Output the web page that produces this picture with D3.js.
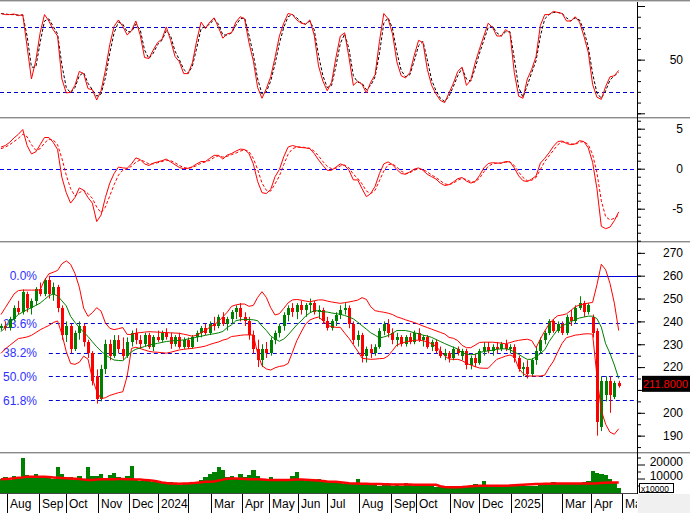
<!DOCTYPE html>
<html><head><meta charset="utf-8">
<script src="https://cdn.jsdelivr.net/npm/d3@7"></script>
<style>body{margin:0;background:#fff}svg{display:block;font-family:"Liberation Sans",Arial,sans-serif}</style>
</head><body><svg id="c" width="690" height="513"></svg>
<script>
// ---------- DATA (one sample per 3 trading days) ----------
const STEP = 3;
const monthStarts = [4,26,45,67,88,108,129,145,166,185,205,225,247,269,286,310,330,352,373,387,407,428];
const monthNames  = ["Aug","Sep","Oct","Nov","Dec","2024","","Mar","Apr","May","Jun","Jul","Aug","Sep","Oct","Nov","Dec","2025","","Mar","Apr","May"];

const stochK = [93,92,92,92.5,91,92,62,32,49,75,92,86,78,72,32,19,19.5,26,39,37,23,22,12.4,21,40,64,81,87,81,73,77,86,73,52,51,59,66,69,80.5,68,53,48,37,37,47,68,85,79,85,89,80,70,74,75,85,90,88,66,49,24,14,23,34,52,72,84,93,92,87,84,83,87,73,44,30,21,29,52,72,75,52,26,30,27,19,29,36,67,93,88,74,48,35,33,38,54,68,66,41,26,18,12,10,19,28,39,43,26,31,47,60,72,84,80,72,72,78,75,38,16,14,32,41,53,82,92,92,95,94,93,86,86,90,85,72,57,27,15,13,25,34,35,40];
const stochD = [93,92.5,92,92,91.5,91.5,72,43,43,66,86,88,81,74,45,24,19,24,35,38,28,22,16,18,33,56,75,85,83,76,76,83,78,59,51,56,64,68,77,72,58,50,41,37,44,61,79,81,83,88,83,73,73,75,82,88,89,73,55,32,18,20,30,46,65,80,90,92,89,85,83,86,78,54,35,24,26,44,65,74,60,35,29,28,22,26,34,56,84,89,79,57,40,34,36,49,63,67,50,31,21,14,11,16,25,35,42,32,30,42,56,68,80,81,75,72,76,76,51,24,15,26,38,49,72,88,92,94,94,93,89,86,89,87,77,62,37,19,14,21,31,35,38];

const macd = [2.7,2.9,3.3,3.85,4.3,4.9,2.9,1.85,2.1,3.0,3.9,3.9,3.3,2.4,-1.1,-3.0,-4.3,-3.6,-2.4,-2.7,-3.6,-4.3,-6.6,-5.8,-3.6,-1.8,-0.6,0.2,0.1,0.05,0.6,1.35,1.15,0.6,0.4,0.7,0.85,1.0,1.2,0.85,0.5,0.15,0,0.05,0.25,0.6,0.9,0.9,1.3,1.67,1.67,1.2,1.7,1.9,2.2,2.45,2.4,1.9,0.6,-1.6,-3.0,-3.1,-2.6,-1.0,-0.1,1.5,2.7,2.9,2.75,2.65,2.6,2.5,1.9,1.1,0.4,-0.2,-0.2,0.2,0.6,0.4,-0.2,-1.4,-1.4,-2.5,-3.5,-3.1,-2.2,-0.6,0.6,0.85,0.5,-0.1,-0.6,-0.7,-0.4,-0.05,0.1,-0.2,-0.7,-1.0,-1.3,-1.8,-2.1,-2.0,-1.65,-1.25,-1.1,-1.55,-1.8,-1.6,-0.85,0.1,0.65,0.75,0.7,0.7,0.9,0.85,0.1,-0.9,-1.5,-1.6,-1.3,-0.9,0.7,1.3,2.0,2.8,3.4,3.45,3.15,3.0,3.1,3.5,3.4,2.6,0.8,-2.5,-7.2,-7.5,-7.3,-6.5,-5.4];
const macdSignal = [2.5,2.7,3.0,3.4,3.8,4.3,4.0,3.0,2.3,2.5,3.2,3.7,3.6,3.0,1.3,-0.8,-2.5,-3.4,-3.0,-2.7,-3.1,-3.7,-4.8,-5.5,-4.8,-3.4,-2.0,-0.8,-0.2,0,0.3,0.8,1.1,0.9,0.6,0.6,0.75,0.9,1.05,1.0,0.75,0.4,0.15,0.05,0.15,0.4,0.7,0.85,1.05,1.4,1.6,1.45,1.55,1.75,1.95,2.2,2.35,2.15,1.3,-0.1,-1.8,-2.7,-2.8,-1.9,-0.9,0.5,1.8,2.5,2.7,2.7,2.65,2.55,2.2,1.6,0.9,0.3,0,0.05,0.35,0.45,0.1,-0.7,-1.2,-1.9,-2.8,-3.1,-2.7,-1.5,-0.3,0.5,0.6,0.2,-0.3,-0.6,-0.5,-0.2,0,-0.1,-0.4,-0.8,-1.1,-1.5,-1.9,-2.0,-1.8,-1.45,-1.2,-1.35,-1.65,-1.65,-1.2,-0.4,0.3,0.6,0.7,0.7,0.8,0.85,0.4,-0.4,-1.1,-1.5,-1.45,-1.1,-0.1,0.9,1.6,2.3,3.0,3.35,3.3,3.1,3.05,3.3,3.4,3.0,1.8,-0.5,-4.0,-6.0,-6.4,-6.2,-5.8];

const priceOpen = [237,238,237,241,246,244,252,246,249,254,252,258,252,255,246,234,238,228,235,238,231,226,216,206,219,230,225,232,228,225,231,235,232,230,234,229,233,232,235,233,230,233,229,232,229,233,235,237,235,239,238,242,239,241,244,246,242,240,234,228,223,228,226,232,235,238,243,246,244,247,245,247,248,244,245,240,237,240,243,245,246,239,232,234,225,228,226,229,236,239,235,232,233,230,233,231,235,232,233,229,231,227,225,226,224,228,225,227,221,224,222,227,229,227,229,228,230,228,229,224,219,220,217,223,227,232,235,240,236,239,235,242,240,246,248,244,242,236,194,208,214,207,213];
const priceHigh = [239,240,242,247,249,254,253,250,255,257,259,260,257,256,247,240,239,236,240,239,232,227,219,221,232,232,234,234,233,233,236,237,234,235,235,234,236,236,237,235,234,235,233,233,234,236,238,239,240,242,243,244,242,245,247,248,244,242,236,232,230,231,233,236,239,244,247,248,248,249,248,250,249,247,246,242,241,244,247,248,247,240,236,235,229,230,230,237,240,241,237,235,234,234,235,236,237,234,234,232,232,229,228,227,229,229,228,228,225,226,228,231,231,230,231,231,232,230,230,225,222,223,224,229,233,236,241,241,240,240,243,245,247,251,249,248,243,237,216,216,216,214,214];
const priceLow = [236,236,236,240,243,243,244,243,247,251,251,250,249,244,232,231,226,227,232,229,224,212,204,205,217,223,224,226,223,224,229,230,228,229,228,227,231,231,232,228,229,228,228,228,228,231,233,234,234,236,237,238,236,239,241,240,238,232,226,220,220,224,225,230,233,236,240,242,241,243,242,244,243,241,239,236,236,238,241,243,237,230,229,222,222,224,225,228,234,233,230,229,229,229,230,230,231,229,228,227,226,224,223,222,223,225,223,219,219,220,221,225,226,225,226,227,227,226,222,218,216,215,216,221,226,230,234,235,235,234,234,238,239,245,242,243,233,190,192,205,200,206,211];
const priceClose = [238,237,241,246,244,253,246,249,254,252,258,252,255,246,234,238,228,235,238,231,226,214,206,219,230,225,232,228,225,231,235,232,230,234,229,233,232,235,233,230,233,229,232,229,233,235,237,235,239,238,242,239,241,244,246,242,240,234,228,223,228,226,232,235,238,243,246,244,247,245,247,248,244,245,240,237,240,243,245,246,239,232,234,225,228,226,229,236,239,235,232,233,230,233,231,235,232,233,229,231,227,225,226,224,228,226,227,221,224,222,227,229,227,229,228,230,228,229,224,219,220,217,223,227,232,235,240,236,239,235,242,240,246,248,244,247,235,196,214,214,208,213,211.8];

const bbUpper = [243,246,249,252,253.5,253.7,253.7,253.7,253.7,253.8,258,260.8,261.5,262.3,265.2,266.5,265,261,255,245.8,242.2,243.8,246,244.5,239.3,237,236.4,236.8,237.3,234.3,234.3,234.9,235.1,235.3,235.5,235.4,235.3,235.2,235.1,235,234.9,234.8,234.4,234,233.5,234,235,236,237.5,238.5,240,242,244,246.6,247.2,247.6,247.6,246.6,247,250.5,253,250.5,246,242.8,243.4,245.7,248.1,249.4,249.6,249.3,248.9,248.6,249,249.4,249.4,248.9,248.5,248.2,247.9,248.2,248.5,248.9,249.3,250.4,249.6,246.4,244.7,244.3,244,243.6,243,242,241.4,240.7,240.1,239.5,238.8,238,237.3,236.6,235.9,235.2,234.5,233,232.6,231.6,229.5,228.5,228.5,229.6,230.8,230.9,230.9,230.9,230.7,230.5,230.2,230.7,231.3,231.7,232,232.2,231.6,228.5,232.3,235.8,238.8,241,242.5,242.8,243.3,244.8,246.4,247.2,247.6,248,248.3,256,265,262.6,256.6,248,236];
const bbMiddle = [235.5,237.4,239.4,241.3,243,244.1,245.1,246,247,248,249.6,251.2,252,251.2,249,246.8,242.2,239.6,237.3,235.3,233.4,231.1,228.9,227,225.4,224.1,223.1,222.9,222.8,224.7,226.7,227.8,228.4,229,229.6,230,230.4,230.8,231.2,231.4,231.6,231.7,231.9,232.3,232.7,233.1,233.5,233.9,234.3,234.6,235,235.6,237.3,238.5,240.3,240.7,240.9,240.8,240.7,240.3,238,236,233.6,232.3,231.3,232.3,234.1,236.3,238.5,240.2,242.3,243.7,244.7,244.6,244.2,244.1,243.7,243.4,243.1,242.6,241.9,241.1,239.7,238.1,236.6,235,234,232.7,233.2,233.8,234.8,236,236,236,235.6,235,234.6,234,233.6,233,232.1,231.2,230.3,229.5,228.7,227.9,226.2,225.7,225.4,225.6,226.4,226.8,227.1,227.4,227.8,228,228,227.6,226.6,225.6,224.4,223.4,223.4,224.5,225.9,227.6,231.2,233.9,236.5,238,239,239.9,240.8,241.5,241.9,242.3,242.3,241.2,237.5,230.2,226,220.9,215];
const bbLower = [226,228,229.5,231,232.5,232.8,233.2,233.9,235.1,236.3,237.3,238.2,239.5,240.2,234.5,226.8,221.6,221.2,222.1,224.8,223.5,215,209.4,206.2,206.6,207.6,208.2,208.8,209.2,216,228.2,228.7,228.1,227.5,226.9,226.6,226.5,226.3,226.1,226.5,227,227.5,227.8,228,228.2,228.5,228.8,229.2,229.9,230.5,231,231.8,232.3,233.4,233.6,233.9,234.1,234.1,234,226,220.6,219.2,218.7,219.7,220.3,220.6,221.6,226.5,231.6,235.3,238.8,240.6,241.4,241.9,240.4,238.3,237.7,237.4,237.4,234.9,232.6,229.8,227,223.9,223.6,223.4,223.5,223.7,223.8,224.9,227.2,229.7,230.4,231,231.4,231.7,231.8,231.5,231.1,230.2,229.1,227,224.9,223.5,223.4,223.4,222.8,221.7,220.9,220.2,219.6,219.5,219.5,221.5,223.4,224.1,224.8,225.3,224.5,219.5,217.2,216.1,216.1,216.1,216.1,216.5,219.8,222.6,226.7,230.4,232.9,233.4,234,234.2,234.5,234.6,234.4,216,201,195,191.5,190.6,193];

const fibHigh = 260, fibLow = 171.8, fibStartDay = 33;
const fibRatios = [0, 23.6, 38.2, 50.0, 61.8];
const fibLabels = ["0.0%","23.6%","38.2%","50.0%","61.8%"];
const lastPrice = 211.8;
const priceTickLabels = [190,200,220,230,240,250,260,270];

const volume = [9500,11000,9000,12000,10500,25000,12500,11000,13000,11500,12000,10500,9500,18000,13000,10000,11000,9000,12000,10000,18000,12000,11500,13500,10000,12500,14000,11000,10000,12000,19000,9500,8500,10000,9000,7500,8000,7000,6500,7500,6000,5500,6500,7000,6000,7500,9000,11000,13000,14500,18500,16000,11000,12000,10000,13000,11000,12500,16000,12000,10000,9500,11000,9000,8500,10000,9000,12000,14500,9500,8500,9000,8000,9500,7500,8000,7000,6500,7000,6000,6500,6000,9500,6500,6000,5500,6000,5000,5500,6000,4800,5500,5000,6500,6000,5000,5500,4500,5000,4500,4000,3800,4500,4000,3500,5000,4500,5000,4500,6000,5000,8500,5500,5000,4500,5500,5000,4500,5000,4800,5500,5000,4500,5000,6000,7000,6500,7500,6000,7000,6500,6000,7000,6500,7500,8000,15500,14000,13000,12500,9500,7000,3500];
const volumeMA = [9500,9700,9900,10200,10500,10800,11200,11300,11300,11300,11200,11000,10800,10600,10400,10200,10000,9800,9600,9200,9000,9000,9200,9400,9500,9500,9500,9600,9600,9500,9400,9300,9200,9000,8800,8400,7800,7200,6800,6500,6400,6300,6400,6500,6700,7000,7300,7600,7700,7900,8500,9200,9800,10000,10000,9900,9700,9500,9500,9400,9300,9100,9000,9000,9000,9000,9000,9100,9200,9200,9100,9000,8800,8500,8200,7900,7700,7600,7400,7000,6600,6500,6500,6300,6200,6100,6000,6000,5900,5900,5800,5800,5700,5700,5700,5600,5600,5600,5500,5500,5500,4500,4000,3800,3800,3800,3900,4200,4500,4700,4800,4900,4900,4800,4800,4800,4900,5000,5200,5400,5600,5800,5900,6000,6100,6200,6300,6400,6500,6500,6500,6500,6500,6500,6500,6500,6500,6600,6800,7000,7100,7200,7200];

const stochLevels = [20, 80];
// ---------- LAYOUT ----------
const AX = 637, RED = "#ff0000", GREEN = "#008000", FIBBLUE = "#0000d8";
const svg = d3.select("#c");
const x = d3.scaleLinear().domain([0, 426]).range([1, 1 + 1.45 * 426]);
const xi = i => x(i * STEP);
const yStoch = d3.scaleLinear().domain([0, 100]).range([113.3, 6]);
const yMacd = d3.scaleLinear().domain([-5, 5]).range([208.7, 128.7]);
const yPrice = d3.scaleLinear().domain([190, 270]).range([435.65, 252.85]);
const yVol = d3.scaleLinear().domain([0, 20000]).range([492.5, 464.5]);

const defs = svg.append("defs");
function clip(id, y0, y1, w) { defs.append("clipPath").attr("id", id).append("rect").attr("x", 0).attr("y", y0).attr("width", w || AX).attr("height", y1 - y0); }
clip("c1", 2, 117); clip("c2", 119, 241); clip("c3", 243, 452); clip("c4", 454, 493); clip("cx", 493, 513);

svg.append("rect").attr("width", 690).attr("height", 513).attr("fill", "#fff");

const g1 = svg.append("g").attr("clip-path", "url(#c1)");
const g2 = svg.append("g").attr("clip-path", "url(#c2)");
const g3 = svg.append("g").attr("clip-path", "url(#c3)");
const g4 = svg.append("g").attr("clip-path", "url(#c4)");

function hline(g, y, color, dash, x0) {
  g.append("line").attr("x1", x0 || 0).attr("x2", AX).attr("y1", Math.round(y) + 0.5).attr("y2", Math.round(y) + 0.5)
    .attr("stroke", color).attr("stroke-width", 1).attr("stroke-dasharray", dash || null);
}
function path(g, arr, y, color, dash, w) {
  g.append("path").attr("d", d3.line().x((d, i) => xi(i)).y(d => y(d))(arr))
    .attr("fill", "none").attr("stroke", color).attr("stroke-width", w || 1).attr("stroke-dasharray", dash || null);
}

// Panel 1: stochastic
stochLevels.forEach(v => hline(g1, yStoch(v), "#0000d0", "4,3"));
path(g1, stochD, yStoch, "#000", "3,2");
path(g1, stochK, yStoch, RED);

// Panel 2: MACD
hline(g2, yMacd(0), "#0000ff", "4,3");
path(g2, macdSignal, yMacd, RED, "3,2");
path(g2, macd, yMacd, RED);

// Panel 3: price
const fibVals = fibRatios.map(r => fibHigh - r / 100 * (fibHigh - fibLow));
fibVals.forEach((v, k) => {
  hline(g3, yPrice(v), FIBBLUE, k === 0 ? null : "4,3", x(fibStartDay));
  g3.append("text").attr("x", 37).attr("y", yPrice(v) + 4.5).attr("text-anchor", "end")
    .attr("font-size", 12).attr("fill", "#3030ff").text(fibLabels[k]);
});
const candles = priceClose.map((c, i) => ({ i, o: priceOpen[i], h: priceHigh[i], l: priceLow[i], c }));
g3.selectAll("line.wick").data(candles).join("line").attr("class", "wick")
  .attr("x1", d => Math.round(xi(d.i)) + 0.5).attr("x2", d => Math.round(xi(d.i)) + 0.5)
  .attr("y1", d => yPrice(d.h)).attr("y2", d => yPrice(d.l))
  .attr("stroke", d => d.c >= d.o ? GREEN : RED).attr("stroke-width", 1);
g3.selectAll("rect.body").data(candles).join("rect").attr("class", "body")
  .attr("x", d => Math.round(xi(d.i)) - 1).attr("width", 3)
  .attr("y", d => yPrice(Math.max(d.o, d.c)))
  .attr("height", d => Math.max(1, yPrice(Math.min(d.o, d.c)) - yPrice(Math.max(d.o, d.c))))
  .attr("fill", d => d.c >= d.o ? GREEN : RED).attr("shape-rendering", "crispEdges");
path(g3, bbUpper, yPrice, RED);
path(g3, bbLower, yPrice, RED);
path(g3, bbMiddle, yPrice, GREEN);

// Panel 4: volume
g4.selectAll("rect.vol").data(volume).join("rect").attr("class", "vol")
  .attr("x", (d, i) => xi(i) - 2).attr("width", 4.35)
  .attr("y", d => yVol(d)).attr("height", d => yVol(0) - yVol(d) + 1)
  .attr("fill", GREEN).attr("shape-rendering", "crispEdges");
path(g4, volumeMA, yVol, RED, null, 2.5);

// Separators
function sep(y) {
  svg.append("line").attr("x1", 0).attr("x2", 690).attr("y1", y + 0.5).attr("y2", y + 0.5).attr("stroke", "#8a8a8a");
  svg.append("line").attr("x1", 0).attr("x2", 690).attr("y1", y + 1.5).attr("y2", y + 1.5).attr("stroke", "#cfcfcf");
}
sep(0); sep(117); sep(241); sep(452);

// Right axes
function rightAxis(scale, minors, majors, fmt, dy) {
  const a = svg.append("g").attr("transform", `translate(${AX},0)`)
    .call(d3.axisRight(scale).tickValues(minors).tickSize(4).tickFormat(""));
  a.select(".domain").remove();
  const b = svg.append("g").attr("transform", `translate(${AX},0)`)
    .call(d3.axisRight(scale).tickValues(majors).tickSize(8).tickFormat(fmt));
  b.select(".domain").remove();
  b.selectAll("text").attr("x", 46).attr("text-anchor", "end").attr("fill", "#000")
    .attr("font-size", 12).attr("font-family", "Liberation Sans, Arial, sans-serif");
  if (dy) b.selectAll("text").attr("dy", dy);
}
rightAxis(yStoch, d3.range(0, 101, 10), [0, 50, 100], d => d === 50 ? "50" : "");
rightAxis(yMacd, d3.range(-9, 7, 1), [-5, 0, 5], d => d3.format("d")(d).replace("−", "-"));
rightAxis(yPrice, d3.range(185, 271, 5), d3.range(190, 271, 10), d => priceTickLabels.includes(d) ? String(d) : "");
rightAxis(yVol, [5000, 15000, 25000], [10000, 20000], d => String(d), "0.1em");
svg.append("line").attr("x1", AX + 0.5).attr("x2", AX + 0.5).attr("y1", 2).attr("y2", 494).attr("stroke", "#000");

// last price box
const yl = yPrice(lastPrice);
svg.append("rect").attr("x", 642).attr("y", yl - 10).attr("width", 48).attr("height", 16).attr("fill", "#000");
svg.append("text").attr("x", 643).attr("y", yl + 2).attr("font-size", 11).attr("fill", RED).text(d3.format(".4f")(lastPrice));

// x10000 box
svg.append("rect").attr("x", 639.5).attr("y", 483.5).attr("width", 34).attr("height", 9).attr("fill", "#fff").attr("stroke", "#000");
svg.append("text").attr("x", 641).attr("y", 491.5).attr("font-size", 8.5).attr("fill", "#000").text("x10000");

// X axis (months)
svg.append("rect").attr("x", AX + 1).attr("y", 494).attr("width", 690 - AX - 1).attr("height", 19).attr("fill", "#f0f0f0");
svg.append("line").attr("x1", 0).attr("x2", AX).attr("y1", 493.5).attr("y2", 493.5).attr("stroke", "#444");
const gx = svg.append("g").attr("clip-path", "url(#cx)");
const ticks = monthStarts.map((d, k) => ({ d, name: monthNames[k] }));
gx.selectAll("line.mt").data(ticks).join("line").attr("class", "mt")
  .attr("x1", t => Math.round(x(t.d)) + 0.5).attr("x2", t => Math.round(x(t.d)) + 0.5)
  .attr("y1", 494).attr("y2", 513).attr("stroke", "#000");
gx.selectAll("text.ml").data(ticks).join("text").attr("class", "ml")
  .attr("x", t => Math.round(x(t.d)) + 3).attr("y", 508)
  .attr("font-size", 12).attr("fill", "#000").text(t => t.name);
</script>
</body></html>
